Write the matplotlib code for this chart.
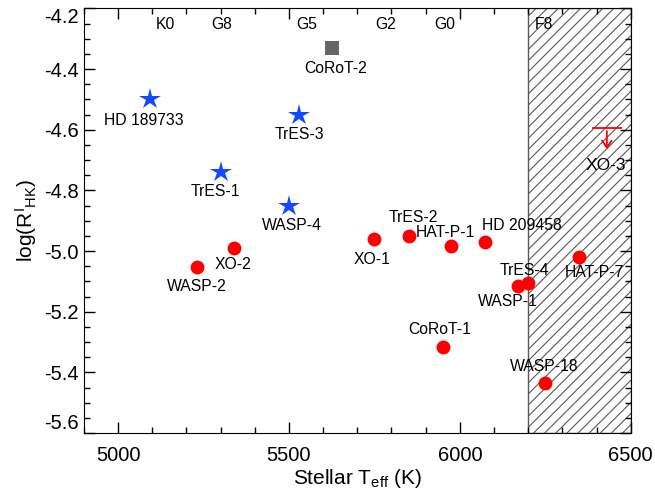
import matplotlib
matplotlib.use("Agg")
import matplotlib.pyplot as plt
from matplotlib.ticker import MultipleLocator

plt.rcParams['font.family'] = ['Liberation Sans', 'DejaVu Sans']
plt.rcParams['mathtext.fontset'] = 'custom'
plt.rcParams['mathtext.rm'] = 'Liberation Sans'
plt.rcParams['mathtext.it'] = 'Liberation Sans'
plt.rcParams['hatch.linewidth'] = 0.8

# active (inflated) planets - blue stars
star_names = ['HD 189733', 'TrES-3', 'TrES-1', 'WASP-4']
star_teff = [5095, 5530, 5300, 5500]
star_logr = [-4.50, -4.55, -4.74, -4.85]

# CoRoT-2 - gray square
sq_names = ['CoRoT-2']
sq_teff = [5625]
sq_logr = [-4.33]

# red circles
dot_names = ['WASP-2', 'XO-2', 'XO-1', 'TrES-2', 'HAT-P-1', 'HD 209458',
             'TrES-4', 'WASP-1', 'HAT-P-7', 'CoRoT-1', 'WASP-18']
dot_teff = [5230, 5340, 5750, 5850, 5975, 6075, 6200, 6170, 6350, 5950, 6250]
dot_logr = [-5.054, -4.99, -4.96, -4.95, -4.985, -4.97, -5.105, -5.115, -5.02, -5.315, -5.435]

# upper limit
lim_name = 'XO-3'
lim_teff = 6430
lim_logr = -4.595

sptypes = ['K0', 'G8', 'G5', 'G2', 'G0', 'F8']
sp_teff = [5140, 5303, 5551, 5784, 5957, 6247]

# label offsets in points
offs = {'HD 189733': (-5, -15), 'TrES-3': (0, -14.5), 'TrES-1': (-3.5, -14),
        'WASP-4': (2, -14.5), 'CoRoT-2': (3, -15), 'WASP-2': (0, -14),
        'XO-2': (-1, -12), 'XO-1': (-2, -15), 'TrES-2': (3.5, 13),
        'HAT-P-1': (-4, 10), 'HD 209458': (26, 11.5), 'TrES-4': (-2.5, 9),
        'WASP-1': (-7, -11.5), 'HAT-P-7': (11, -11), 'CoRoT-1': (-2.5, 12),
        'WASP-18': (-1, 12)}

fig = plt.figure(figsize=(6.55, 4.93), dpi=100)
ax = fig.add_axes([0.128, 0.1217, 0.835, 0.8613])

ax.axvspan(6200, 6500, facecolor='none', edgecolor='0.35', hatch='///', lw=1)

ax.plot(star_teff, star_logr, '*', color='#1448ff', ms=16, mew=0, zorder=3)
ax.plot(sq_teff, sq_logr, 's', color='#666666', ms=10, mew=0, zorder=3)
ax.plot(dot_teff, dot_logr, 'o', color='#ff0000', ms=10, mew=0, zorder=3)

for names, xs, ys in [(star_names, star_teff, star_logr), (sq_names, sq_teff, sq_logr),
                      (dot_names, dot_teff, dot_logr)]:
    for n, x, y in zip(names, xs, ys):
        ax.annotate(n, (x, y), xytext=offs[n], textcoords='offset points',
                    ha='center', va='center', fontsize=11.3)

# XO-3 upper limit
ax.plot([lim_teff - 40, lim_teff + 40], [lim_logr, lim_logr], color='red', lw=1.3)
ax.annotate('', xy=(lim_teff, lim_logr - 0.078), xytext=(lim_teff, lim_logr),
            arrowprops=dict(arrowstyle='->,head_width=0.35,head_length=0.5', color='red', lw=1.3))
ax.annotate(lim_name, (lim_teff, lim_logr), xytext=(-1, -27), textcoords='offset points',
            ha='center', va='center', fontsize=12.5)

for s, t in zip(sptypes, sp_teff):
    ax.text(t, 0.963, s, transform=ax.get_xaxis_transform(), ha='center', va='center', fontsize=11.3)

ax.set_xlim(4900, 6500)
ax.set_ylim(-5.6, -4.2)
ax.xaxis.set_major_locator(MultipleLocator(500))
ax.xaxis.set_minor_locator(MultipleLocator(100))
ax.yaxis.set_major_locator(MultipleLocator(0.2))
ax.yaxis.set_minor_locator(MultipleLocator(0.05))
ax.yaxis.set_major_formatter(plt.FuncFormatter(lambda v, p: '%.1f' % v))
ax.tick_params(which='both', direction='in', top=True, right=True, labelsize=14.5, width=1)
ax.tick_params(which='major', length=8)
ax.tick_params(which='minor', length=4.5)
ax.tick_params(axis='x', pad=9)

ax.set_xlabel('Stellar T$_{\\rm eff}$ (K)', fontsize=15, labelpad=2)
ax.set_ylabel('log(R$^{\\rm I}$$_{\\rm HK}$)', fontsize=15, labelpad=4)

# end labels pulled inside the axis range
fig.canvas.draw()
for lab in ax.get_yticklabels():
    if lab.get_text() == '-4.2':
        lab.set_va('top')
    elif lab.get_text() == '-5.6':
        lab.set_va('bottom')

fig.savefig('out.png', dpi=100)
